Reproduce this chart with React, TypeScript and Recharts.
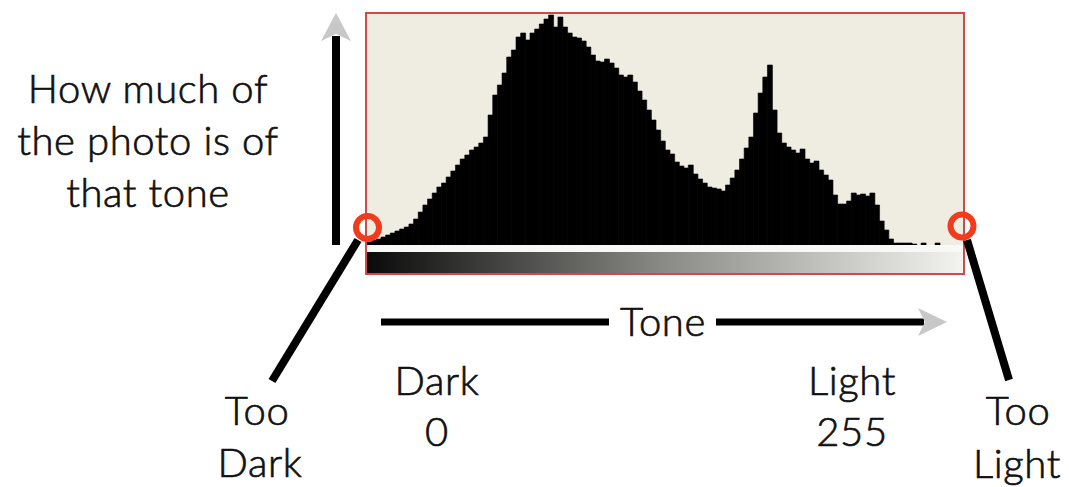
import { BarChart, Bar, XAxis, YAxis } from "recharts";

// relative pixel counts for each pair of tone levels (0-1, 2-3, ... 254-255)
const counts = [
  3, 5, 6, 8, 10, 12, 14, 16, 18, 21,
  26, 33, 40, 46, 52, 58, 62, 68, 74, 80,
  86, 90, 95, 98, 102, 108, 130, 150, 160, 172,
  188, 195, 208, 212, 205, 212, 216, 221, 226, 230,
  218, 228, 218, 212, 208, 207, 204, 198, 190, 184,
  183, 186, 182, 177, 170, 168, 170, 163, 154, 145,
  135, 125, 115, 104, 95, 91, 83, 79, 77, 80,
  71, 66, 62, 58, 57, 56, 54, 60, 67, 75,
  86, 97, 108, 132, 152, 168, 180, 135, 112, 102,
  98, 95, 92, 96, 86, 82, 84, 75, 70, 65,
  50, 41, 41, 44, 52, 50, 51, 49, 52, 40,
  24, 15, 6, 2, 2, 2, 2, 1, 0, 2,
  0, 0, 2, 0, 0, 0, 0, 0,
];
const toneLevels = counts.map((_, i) => i * 2);
const data = counts.map((c, i) => ({ tone: toneLevels[i], count: c }));

const leftLabel = ["How much of", "the photo is of", "that tone"];

const FONT = "Lato, 'Open Sans', sans-serif";

export default function App() {
  return (
    <div
      style={{
        position: "absolute",
        left: 0,
        top: 0,
        width: 1069,
        height: 487,
        background: "#fff",
        overflow: "hidden",
      }}
    >
      {/* histogram frame */}
      <div
        style={{
          position: "absolute",
          left: 365,
          top: 12,
          width: 600,
          height: 263,
          boxSizing: "border-box",
          border: "2px solid #d04a4a",
          background: "#efece2",
        }}
      />
      <div style={{ position: "absolute", left: 367, top: 14 }}>
        <BarChart
          width={596}
          height={231}
          data={data}
          margin={{ top: 0, right: 0, bottom: 0, left: 0 }}
          barCategoryGap={0}
        >
          <XAxis dataKey="tone" hide />
          <YAxis hide domain={[0, 231]} />
          <Bar
            dataKey="count"
            fill="#000"
            stroke="#000"
            strokeWidth={0.6}
            isAnimationActive={false}
          />
        </BarChart>
      </div>

      <svg
        width={1069}
        height={487}
        style={{ position: "absolute", left: 0, top: 0, pointerEvents: "none" }}
      >
        <defs>
          <linearGradient id="toneRamp" x1="0" x2="1" y1="0" y2="0">
            <stop offset="0%" stopColor="#0a0a0a" />
            <stop offset="50%" stopColor="#8a8a86" />
            <stop offset="100%" stopColor="#f3f3ef" />
          </linearGradient>
        </defs>
        {/* tone strip under the histogram */}
        <rect x={367} y={245} width={596} height={7} fill="#f8f8f6" />
        <rect x={367} y={252} width={596} height={21} fill="url(#toneRamp)" />

        {/* vertical arrow */}
        <rect x={332} y={36} width={8} height={209} fill="#000" />
        <polygon points="336,13 351,41 336,34 321,41" fill="#c8c8c8" />

        {/* horizontal arrow */}
        <line x1={381} y1={322} x2={609} y2={322} stroke="#000" strokeWidth={7} />
        <line x1={716} y1={322} x2={924} y2={322} stroke="#000" strokeWidth={7} />
        <polygon points="947,322 918,308 925,322 918,336" fill="#c8c8c8" />

        {/* pointer lines */}
        <line x1={358} y1={240} x2={272} y2={381} stroke="#000" strokeWidth={8} />
        <line x1={967} y1={240} x2={1009} y2={380} stroke="#000" strokeWidth={8} />

        {/* clipping markers */}
        <circle cx={367.5} cy={227.5} r={11.5} fill="none" stroke="#f23a1c" strokeWidth={6} />
        <circle cx={962} cy={226} r={11.5} fill="none" stroke="#f23a1c" strokeWidth={6} />

        <g
          fontFamily={FONT}
          fontSize={40}
          fontWeight={300}
          letterSpacing={0.6}
          fill="#111"
          stroke="#111"
          strokeWidth={0.7}
          textAnchor="middle"
        >
          {leftLabel.map((t, i) => (
            <text key={t} x={148} y={103 + i * 52}>
              {t}
            </text>
          ))}
          <text x={663} y={336}>Tone</text>
          <text x={437} y={395}>Dark</text>
          <text x={437} y={446}>0</text>
          <text x={852} y={395}>Light</text>
          <text x={852} y={446}>255</text>
          <text x={257} y={425}>Too</text>
          <text x={260} y={477}>Dark</text>
          <text x={1018} y={425}>Too</text>
          <text x={1017} y={478}>Light</text>
        </g>
      </svg>
    </div>
  );
}
